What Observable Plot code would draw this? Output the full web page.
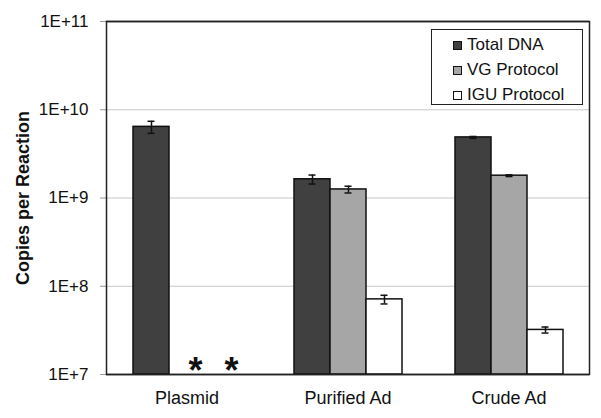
<!DOCTYPE html>
<html><head><meta charset="utf-8">
<script src="https://cdn.jsdelivr.net/npm/d3@7"></script>
<script src="https://cdn.jsdelivr.net/npm/@observablehq/plot@0.6"></script>
<style>
body{margin:0;background:#fff;}
#wrap{position:relative;width:601px;height:418px;font-family:"Liberation Sans",Arial,sans-serif;}
g[aria-label="y-axis label"] text{font-weight:bold;font-size:18px;}
#legend{position:absolute;left:431px;top:29px;width:150px;height:74px;border:1.5px solid #222;background:#fff;font-size:17px;color:#111;}
.row{position:absolute;left:21px;height:20px;display:flex;align-items:center;}
.sw{width:7px;height:7px;border:1px solid #111;margin-right:5px;}
</style>
</head><body>
<div id="wrap"><div id="chart"></div><div id="legend"></div></div>
<script>
const categories = ["Plasmid", "Purified Ad", "Crude Ad"];
const series = ["Total DNA", "VG Protocol", "IGU Protocol"];
const fills = ["#404040", "#a6a6a6", "#ffffff"];
const totalDNA = [6.4e9, 1.63e9, 4.86e9];
const totalErr = [1.0e9, 0.19e9, 0.12e9];
const vgProtocol = [null, 1.25e9, 1.79e9];
const vgErr = [null, 0.11e9, 0.04e9];
const iguProtocol = [null, 7.1e7, 3.2e7];
const iguErr = [null, 0.8e7, 0.25e7];
const notDetectedCategory = ["Plasmid", "Plasmid"];
const notDetectedSeries = ["VG Protocol", "IGU Protocol"];
const yTicks = [1e7, 1e8, 1e9, 1e10, 1e11];

const values = [totalDNA, vgProtocol, iguProtocol];
const errs = [totalErr, vgErr, iguErr];
const rows = categories.flatMap((c, i) => series.map((s, j) => ({
  category: c, series: s, value: values[j][i], err: errs[j][i]
}))).filter(d => d.value != null);
const nd = notDetectedCategory.map((c, i) => ({category: c, series: notDetectedSeries[i]}));

const chart = Plot.plot({
  width: 601, height: 418,
  marginTop: 21, marginBottom: 44, marginLeft: 106, marginRight: 12,
  style: {fontFamily: "Liberation Sans, Arial, sans-serif", fontSize: "17px", color: "#111", background: "#fff"},
  fx: {domain: categories, padding: 0, label: null},
  x: {domain: series, paddingInner: 0, paddingOuter: 0.716, axis: null},
  y: {type: "log", domain: [1e7, 1e11]},
  color: {domain: series, range: fills},
  marks: [
    Plot.gridY(yTicks, {stroke: "#c8c8c8", strokeOpacity: 1}),
    Plot.ruleY([1e7, 1e11], {stroke: "#222", strokeWidth: 1.5}),
    Plot.barY(rows, {fx: "category", x: "series", y1: 1e7, y2: "value", fill: "series", stroke: "#111", strokeWidth: 1.5}),
    Plot.ruleX(rows, {fx: "category", x: "series", y1: d => d.value - d.err, y2: d => d.value + d.err, stroke: "#111", strokeWidth: 1.5}),
    Plot.tickY(rows, {fx: "category", x: "series", y: d => d.value - d.err, insetLeft: 14.5, insetRight: 14.5, stroke: "#111", strokeWidth: 1.5}),
    Plot.tickY(rows, {fx: "category", x: "series", y: d => d.value + d.err, insetLeft: 14.5, insetRight: 14.5, stroke: "#111", strokeWidth: 1.5}),
    Plot.text(nd, {fx: "category", x: "series", text: () => "*", frameAnchor: "bottom", dy: 8, dx: 8, fontSize: 36, fontWeight: "bold", fill: "#111"}),
    Plot.axisY({ticks: yTicks, tickFormat: d => "1E+" + Math.round(Math.log10(d)), tickSize: 6, tickPadding: 12,
      label: "Copies per Reaction", labelAnchor: "center", labelOffset: 90, labelArrow: "none", stroke: "#999"}),
    Plot.axisFx({anchor: "bottom", tickSize: 0, tickPadding: 17, fontSize: 18, label: null}),
    Plot.frame({facet: "super", stroke: "#222", strokeWidth: 1.5})
  ]
});
document.getElementById("chart").appendChild(chart);

const legend = document.getElementById("legend");
series.forEach((s, i) => {
  const r = document.createElement("div");
  r.className = "row";
  r.style.top = (5 + i * 25) + "px";
  r.innerHTML = `<div class="sw" style="background:${fills[i]}"></div><span>${s}</span>`;
  legend.appendChild(r);
});
</script>
</body></html>
